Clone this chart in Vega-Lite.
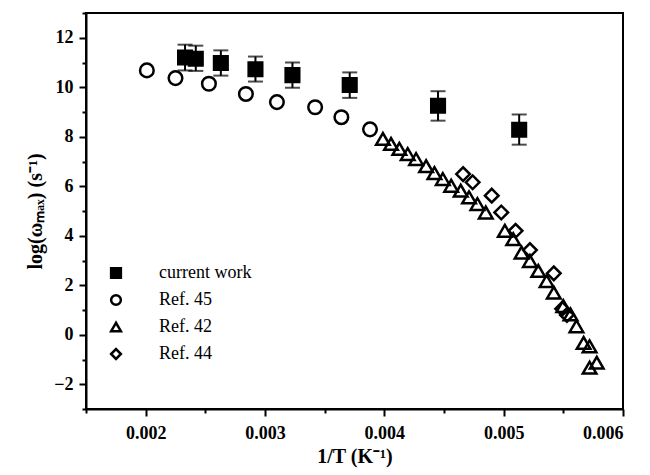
{
  "$schema": "https://vega.github.io/schema/vega-lite/v6.json",
  "width": 537,
  "height": 396,
  "autosize": {"type": "none"},
  "padding": {"left": 86, "top": 13, "right": 27, "bottom": 66},
  "background": "white",
  "config": {
    "view": {"stroke": "black", "strokeWidth": 2},
    "font": "Liberation Serif",
    "axis": {
      "domainColor": "black",
      "domainWidth": 2,
      "tickColor": "black",
      "tickWidth": 2,
      "grid": false,
      "labelFont": "Liberation Serif",
      "labelFontWeight": "bold",
      "labelFontSize": 18,
      "labelColor": "black",
      "titleFont": "Liberation Serif",
      "titleFontWeight": "bold",
      "titleFontSize": 20,
      "titleColor": "black"
    },
    "legend": {
      "labelFont": "Liberation Serif",
      "labelFontSize": 18,
      "labelColor": "black",
      "symbolStrokeWidth": 2.5
    }
  },
  "datasets": {
    "pts": [
      {"series": "current work", "x": 0.00233, "y": 11.2, "lo": 10.68, "hi": 11.72},
      {"series": "current work", "x": 0.00242, "y": 11.15, "lo": 10.66, "hi": 11.68},
      {"series": "current work", "x": 0.00263, "y": 10.98, "lo": 10.47, "hi": 11.49},
      {"series": "current work", "x": 0.00292, "y": 10.73, "lo": 10.23, "hi": 11.24},
      {"series": "current work", "x": 0.00323, "y": 10.49, "lo": 9.98, "hi": 11.0},
      {"series": "current work", "x": 0.00371, "y": 10.09, "lo": 9.57, "hi": 10.6},
      {"series": "current work", "x": 0.00445, "y": 9.25, "lo": 8.65, "hi": 9.84},
      {"series": "current work", "x": 0.00513, "y": 8.28, "lo": 7.68, "hi": 8.9},

      {"series": "Ref. 45", "x": 0.00201, "y": 10.68},
      {"series": "Ref. 45", "x": 0.00225, "y": 10.37},
      {"series": "Ref. 45", "x": 0.00253, "y": 10.14},
      {"series": "Ref. 45", "x": 0.00284, "y": 9.73},
      {"series": "Ref. 45", "x": 0.0031, "y": 9.4},
      {"series": "Ref. 45", "x": 0.00342, "y": 9.19},
      {"series": "Ref. 45", "x": 0.00364, "y": 8.79},
      {"series": "Ref. 45", "x": 0.00388, "y": 8.3},

      {"series": "Ref. 42", "x": 0.003988, "y": 7.91},
      {"series": "Ref. 42", "x": 0.004056, "y": 7.71},
      {"series": "Ref. 42", "x": 0.004126, "y": 7.51},
      {"series": "Ref. 42", "x": 0.004196, "y": 7.3},
      {"series": "Ref. 42", "x": 0.004266, "y": 7.1},
      {"series": "Ref. 42", "x": 0.00435, "y": 6.81},
      {"series": "Ref. 42", "x": 0.00442, "y": 6.53},
      {"series": "Ref. 42", "x": 0.00449, "y": 6.29},
      {"series": "Ref. 42", "x": 0.00456, "y": 6.02},
      {"series": "Ref. 42", "x": 0.00464, "y": 5.82},
      {"series": "Ref. 42", "x": 0.00471, "y": 5.55},
      {"series": "Ref. 42", "x": 0.00478, "y": 5.28},
      {"series": "Ref. 42", "x": 0.00485, "y": 4.94},
      {"series": "Ref. 42", "x": 0.00501, "y": 4.2},
      {"series": "Ref. 42", "x": 0.00508, "y": 3.86},
      {"series": "Ref. 42", "x": 0.00515, "y": 3.32},
      {"series": "Ref. 42", "x": 0.00522, "y": 2.98},
      {"series": "Ref. 42", "x": 0.00529, "y": 2.58},
      {"series": "Ref. 42", "x": 0.00536, "y": 2.17},
      {"series": "Ref. 42", "x": 0.00542, "y": 1.7},
      {"series": "Ref. 42", "x": 0.0055, "y": 1.16},
      {"series": "Ref. 42", "x": 0.00556, "y": 0.82},
      {"series": "Ref. 42", "x": 0.00561, "y": 0.34},
      {"series": "Ref. 42", "x": 0.00567, "y": -0.33},
      {"series": "Ref. 42", "x": 0.00572, "y": -0.47},
      {"series": "Ref. 42", "x": 0.00578, "y": -1.13},
      {"series": "Ref. 42", "x": 0.00572, "y": -1.33},

      {"series": "Ref. 44", "x": 0.00466, "y": 6.49},
      {"series": "Ref. 44", "x": 0.00474, "y": 6.16},
      {"series": "Ref. 44", "x": 0.0049, "y": 5.62},
      {"series": "Ref. 44", "x": 0.00498, "y": 4.94},
      {"series": "Ref. 44", "x": 0.0051, "y": 4.2},
      {"series": "Ref. 44", "x": 0.00522, "y": 3.42},
      {"series": "Ref. 44", "x": 0.00542, "y": 2.48},
      {"series": "Ref. 44", "x": 0.00549, "y": 1.05},
      {"series": "Ref. 44", "x": 0.00553, "y": 0.8}
    ]
  },
  "data": {"name": "pts"},
  "encoding": {
    "x": {
      "field": "x",
      "type": "quantitative",
      "scale": {"domain": [0.0015, 0.006], "nice": false, "zero": false},
      "axis": {
        "title": "1/T (K⁻¹)",
        "values": [0.0015, 0.002, 0.0025, 0.003, 0.0035, 0.004, 0.0045, 0.005, 0.0055, 0.006],
        "format": ".3f",
        "labelExpr": "abs(datum.value * 1000 - round(datum.value * 1000)) < 0.000001 ? datum.label : ''",
        "tickSize": {"condition": {"test": "abs(datum.value * 1000 - round(datum.value * 1000)) < 0.000001", "value": 7}, "value": 4},
        "labelPadding": 8,
        "titlePadding": 4
      }
    },
    "y": {
      "field": "y",
      "type": "quantitative",
      "scale": {"domain": [-3, 13], "nice": false, "zero": false},
      "axis": {
        "title": "log(ωₘₐₓ) (s⁻¹)",
        "values": [-3, -2, -1, 0, 1, 2, 3, 4, 5, 6, 7, 8, 9, 10, 11, 12, 13],
        "labelExpr": "datum.value % 2 == 0 ? datum.label : ''",
        "tickSize": {"condition": {"test": "datum.value % 2 == 0", "value": 7}, "value": 4},
        "labelPadding": 6,
        "titlePadding": 8
      }
    }
  },
  "layer": [
    {
      "transform": [{"filter": "datum.series === 'current work'"}],
      "mark": {"type": "rule", "color": "black", "strokeWidth": 2},
      "encoding": {"y": {"field": "lo", "type": "quantitative"}, "y2": {"field": "hi"}}
    },
    {
      "transform": [{"filter": "datum.series === 'current work'"}],
      "mark": {"type": "tick", "orient": "horizontal", "color": "black", "size": 15, "thickness": 2},
      "encoding": {"y": {"field": "lo", "type": "quantitative"}}
    },
    {
      "transform": [{"filter": "datum.series === 'current work'"}],
      "mark": {"type": "tick", "orient": "horizontal", "color": "black", "size": 15, "thickness": 2},
      "encoding": {"y": {"field": "hi", "type": "quantitative"}}
    },
    {
      "mark": {"type": "point", "filled": false, "stroke": "black", "strokeWidth": 2.5, "opacity": 1, "size": 185},
      "encoding": {
        "shape": {
          "field": "series",
          "type": "nominal",
          "scale": {
            "domain": ["current work", "Ref. 45", "Ref. 42", "Ref. 44"],
            "range": ["square", "circle", "triangle-up", "diamond"]
          },
          "legend": {
            "title": null,
            "orient": "none",
            "legendX": 21,
            "legendY": 251,
            "padding": 0,
            "symbolSize": 95,
            "symbolStrokeWidth": 2.5,
            "labelOffset": 34,
            "rowPadding": 7,
            "encode": {
              "symbols": {
                "update": {
                  "stroke": {"value": "black"},
                  "strokeWidth": {"value": 2.5},
                  "opacity": {"value": 1}
                }
              }
            }
          }
        },
        "fill": {
          "field": "series",
          "type": "nominal",
          "scale": {
            "domain": ["current work", "Ref. 45", "Ref. 42", "Ref. 44"],
            "range": ["black", "transparent", "transparent", "transparent"]
          }
        }
      }
    }
  ]
}
